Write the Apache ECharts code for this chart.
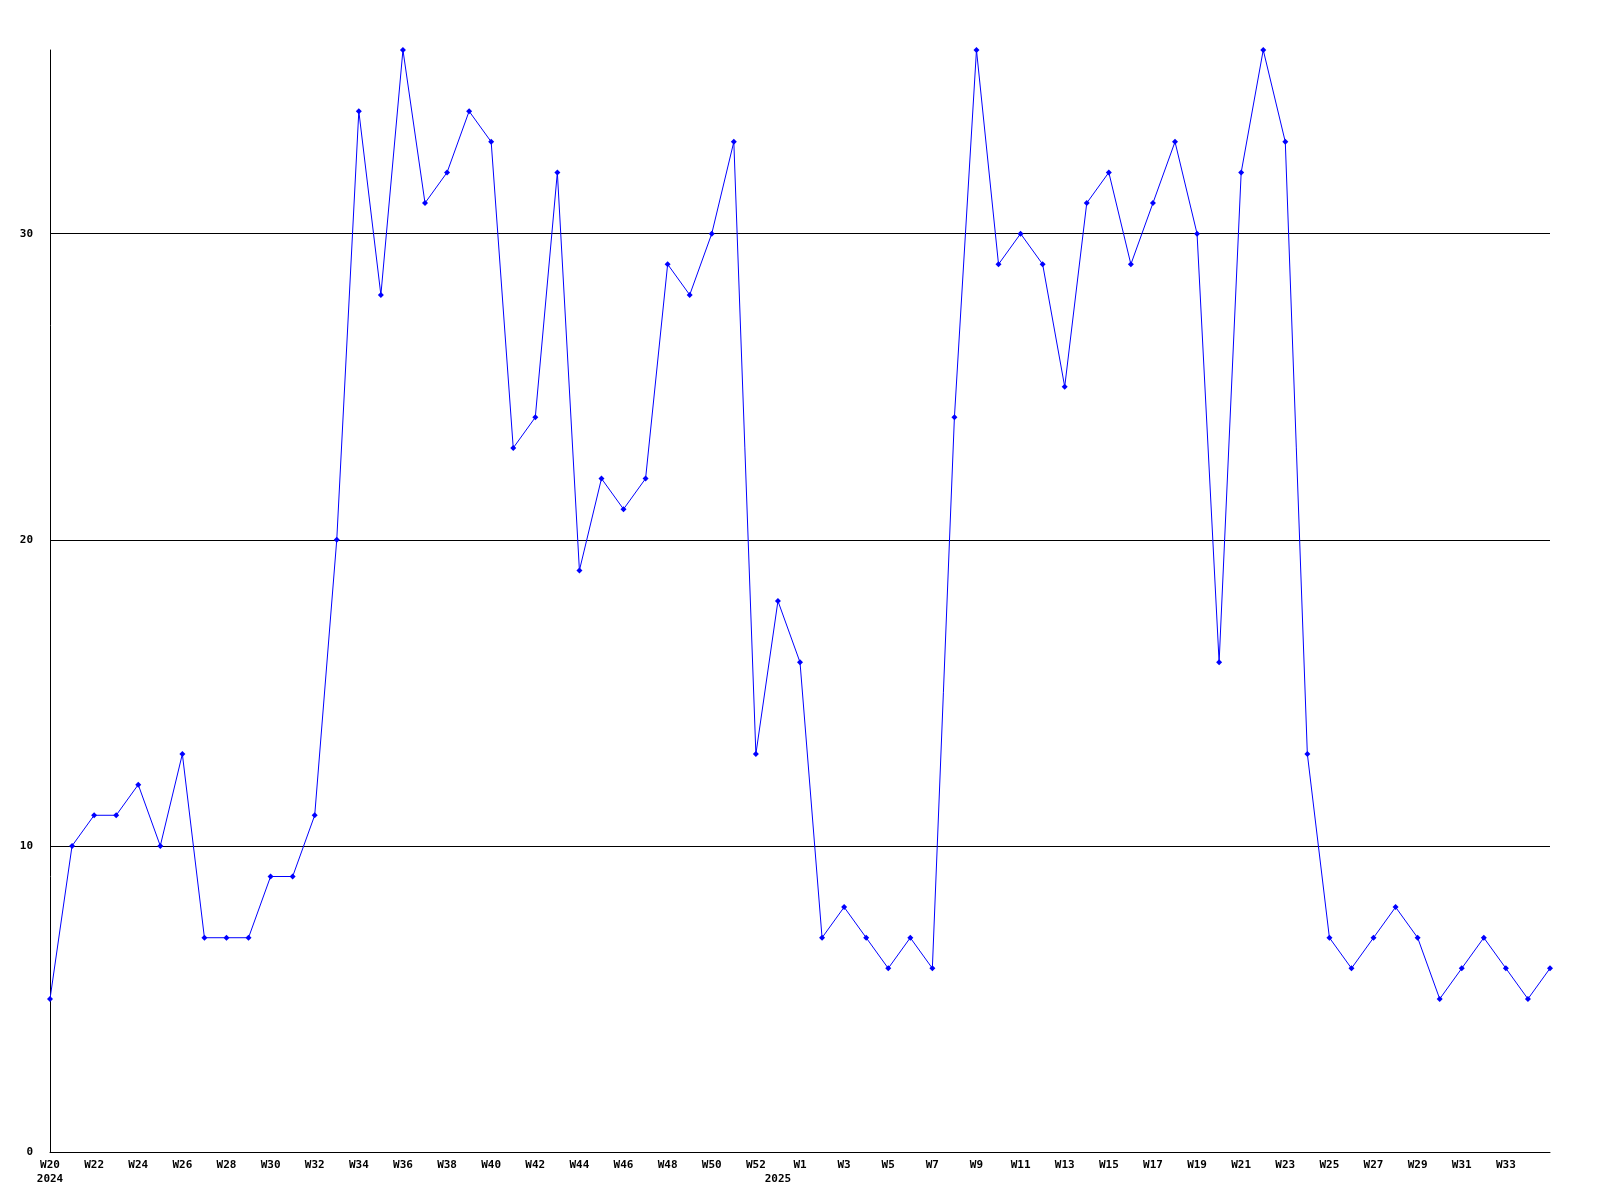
<!DOCTYPE html>
<html>
<head>
<meta charset="utf-8">
<script src="https://cdn.jsdelivr.net/npm/echarts@6/dist/echarts.min.js"></script>
<style>html,body{margin:0;padding:0;background:#fff}#c{width:1600px;height:1200px}</style>
</head>
<body>
<div id="c"></div>
<script>
const weeks = ["W20","W21","W22","W23","W24","W25","W26","W27","W28","W29","W30","W31","W32","W33","W34","W35","W36","W37","W38","W39","W40","W41","W42","W43","W44","W45","W46","W47","W48","W49","W50","W51","W52","W53",
"W1","W2","W3","W4","W5","W6","W7","W8","W9","W10","W11","W12","W13","W14","W15","W16","W17","W18","W19","W20","W21","W22","W23","W24","W25","W26","W27","W28","W29","W30","W31","W32","W33","W34","W35"];
const weekLabels = ["W20","W22","W24","W26","W28","W30","W32","W34","W36","W38","W40","W42","W44","W46","W48","W50","W52",
"W1","W3","W5","W7","W9","W11","W13","W15","W17","W19","W21","W23","W25","W27","W29","W31","W33"];
const yearLabels = {0: "2024", 33: "2025"};
const values = [5,10,11,11,12,10,13,7,7,7,9,9,11,20,34,28,36,31,32,34,33,23,24,32,19,22,21,22,29,28,30,33,13,18,
16,7,8,7,6,7,6,24,36,29,30,29,25,31,32,29,31,33,30,16,32,36,33,13,7,6,7,8,7,5,6,7,6,5,6];
const yTicks = [0,10,20,30];

// indices that carry a week label: even offsets within 2024 part, and even offsets from W1 in 2025 part
const labelIdx = new Set();
weeks.forEach(function (w, i) {
  if (i < 33 && i % 2 === 0) labelIdx.add(i);
  if (i >= 34 && (i - 34) % 2 === 0 && i < weeks.length - 1) labelIdx.add(i);
});

const chart = echarts.init(document.getElementById('c'));
const font = {fontFamily: 'DejaVu Sans Mono', fontWeight: 'bold', fontSize: 11, color: '#000'};
chart.setOption({
  animation: false,
  grid: {left: 50, right: 50, top: 50, bottom: 48},
  xAxis: {
    type: 'category', data: weeks, boundaryGap: false,
    axisLine: {lineStyle: {color: '#000', width: 1}},
    axisTick: {show: false},
    axisLabel: Object.assign({}, font, {
      margin: 6, lineHeight: 14,
      interval: function (i) { return labelIdx.has(i) || yearLabels[i] !== undefined; },
      formatter: function (v, i) {
        const wk = labelIdx.has(i) ? v : '';
        if (yearLabels[i]) return wk + '\n' + yearLabels[i];
        return wk;
      }
    }),
    splitLine: {show: false}
  },
  yAxis: {
    type: 'value', min: 0, max: 36, interval: 10,
    axisLine: {show: true, lineStyle: {color: '#000', width: 1}},
    axisTick: {show: false},
    axisLabel: Object.assign({}, font, {margin: 17, showMaxLabel: false, formatter: function (v) { return yTicks.indexOf(v) >= 0 ? String(v) : ''; }}),
    splitLine: {show: true, showMaxLine: false, lineStyle: {color: '#000', width: 1}}
  },
  series: [{
    type: 'line', data: values,
    lineStyle: {color: '#0000ff', width: 1},
    itemStyle: {color: '#0000ff'},
    symbol: 'diamond', symbolSize: 6, showAllSymbol: true
  }]
});
</script>
</body>
</html>
